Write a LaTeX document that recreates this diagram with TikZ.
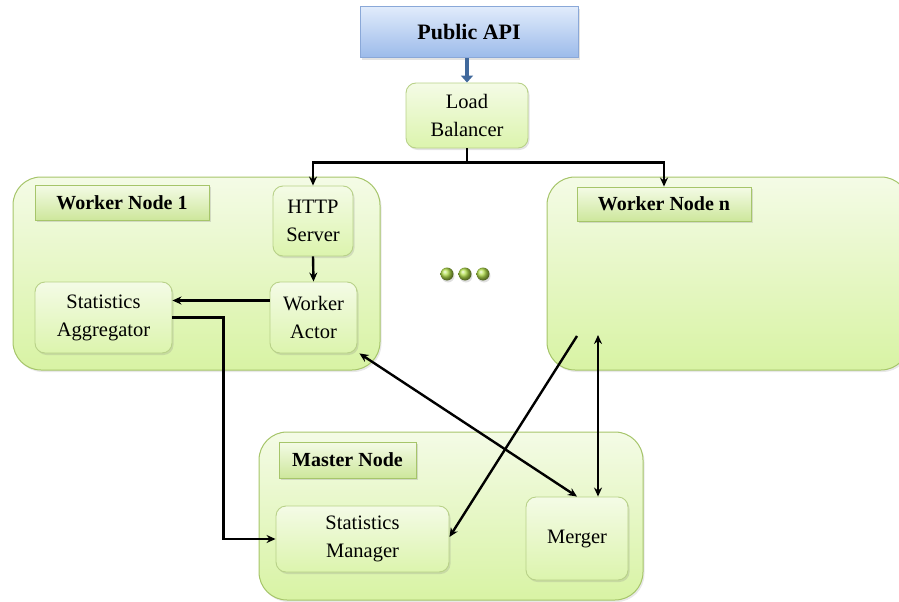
\documentclass[tikz,border=0pt]{standalone}
\usepackage{fontspec}
\setmainfont{Liberation Serif}
\usetikzlibrary{arrows.meta,shadows,calc}
\definecolor{gtop}{HTML}{F4FBE6}
\definecolor{gbot}{HTML}{D8F3A4}
\definecolor{gborder}{HTML}{A6C56A}
\definecolor{btop}{HTML}{E0EBFB}
\definecolor{bbot}{HTML}{9BBAEA}
\definecolor{bborder}{HTML}{8AA8D8}
\definecolor{barrow}{HTML}{41699C}
\definecolor{ball}{HTML}{B4E04C}
\tikzset{
  container/.style={draw=gborder, line width=1pt, rounded corners=28pt, top color=gtop, bottom color=gbot,
    drop shadow={opacity=0.18, shadow xshift=1.5pt, shadow yshift=-2pt}, inner sep=0pt},
  compbox/.style={draw=gborder!80, line width=0.9pt, rounded corners=10pt, top color=gtop, bottom color=gbot!90,
    drop shadow={opacity=0.22, shadow xshift=1.5pt, shadow yshift=-2pt}, align=center,
    font=\fontsize{20.5}{28}\selectfont, inner sep=0pt},
  titlebox/.style={draw=gborder, line width=0.9pt, top color=gtop, bottom color=gbot!95!black,
    drop shadow={opacity=0.25, shadow xshift=1.5pt, shadow yshift=-2pt}, align=center,
    font=\fontsize{20}{24}\bfseries\selectfont, inner sep=0pt},
  apibox/.style={draw=bborder, line width=1pt, top color=btop, bottom color=bbot,
    drop shadow={opacity=0.22, shadow xshift=1.5pt, shadow yshift=-2pt},
    font=\fontsize{22}{26}\bfseries\selectfont, inner sep=0pt},
  conn/.style={line width=2.4pt, black},
  arr/.style={conn, -{Stealth[length=9pt,width=8pt]}},
  darr/.style={conn, {Stealth[length=9pt,width=8pt]}-{Stealth[length=9pt,width=8pt]}},
  bluearr/.style={line width=4pt, barrow, -{Triangle[length=7pt,width=12pt]}},
}
\begin{document}
\begin{tikzpicture}[x=1pt,y=-1pt]
\useasboundingbox (0,0) rectangle (899,602);
% containers
\node[container, minimum width=367pt, minimum height=193pt] (w1) at (196.5,273.5) {};
\node[container, minimum width=362pt, minimum height=193pt] (wn) at (728,273.5) {};
\node[container, minimum width=384pt, minimum height=168pt] (master) at (451,516) {};
% titles
\node[titlebox, minimum width=174pt, minimum height=35pt] (w1lab) at (122,202.5) {Worker Node 1};
\node[titlebox, minimum width=174pt, minimum height=34pt] (wnlab) at (664,204) {Worker Node n};
\node[titlebox, minimum width=137pt, minimum height=36pt] (mlab) at (347.5,460) {Master Node};
% top
\node[apibox, minimum width=218pt, minimum height=51pt] (pub) at (469,32.5) {Public API};
\node[compbox, minimum width=122pt, minimum height=65pt] (lb) at (467,115.5) {Load\\Balancer};
% worker 1 components
\node[compbox, minimum width=80pt, minimum height=70pt] (http) at (313,221) {HTTP\\Server};
\node[compbox, minimum width=87pt, minimum height=71pt] (actor) at (313.5,317.5) {Worker\\Actor};
\node[compbox, minimum width=137pt, minimum height=71pt] (agg) at (103.5,317.5) {Statistics\\Aggregator};
% master components
\node[compbox, minimum width=173pt, minimum height=66pt] (sm) at (362.5,539) {Statistics\\Manager};
\node[compbox, minimum width=102pt, minimum height=83pt] (merger) at (577,538.5) {Merger};
% dots
\foreach \i/\x in {1/447,2/465,3/483}{
  \fill[black, opacity=0.12] (\x+1,276) circle (6.5pt);
  \shade[ball color=ball] (\x,274) circle (6.5pt);
}
% connectors
\draw[bluearr] (pub.south -| lb.north) -- (lb.north);
\draw[conn] (lb.south) -- ++(0,14) coordinate (split);
\draw[arr] (split) -| (http.north);
\draw[arr] (split) -| (wnlab.north);
\draw[arr] (http.south) -- (actor.north);
\draw[arr] ([yshift=17pt]actor.west) -- ([yshift=17pt]agg.east);
\draw[arr] (agg.east) -- ++(51,0) |- (sm.west);
\coordinate (wnout) at (577,336);
\coordinate (wnin) at (598,335);
\draw[arr] (wnout) -- ([yshift=2pt]sm.east);
\draw[darr] (wnin) -- (wnin |- merger.north);
\draw[darr] ([xshift=2pt]actor.south east) -- (merger.north);
\end{tikzpicture}
\end{document}
